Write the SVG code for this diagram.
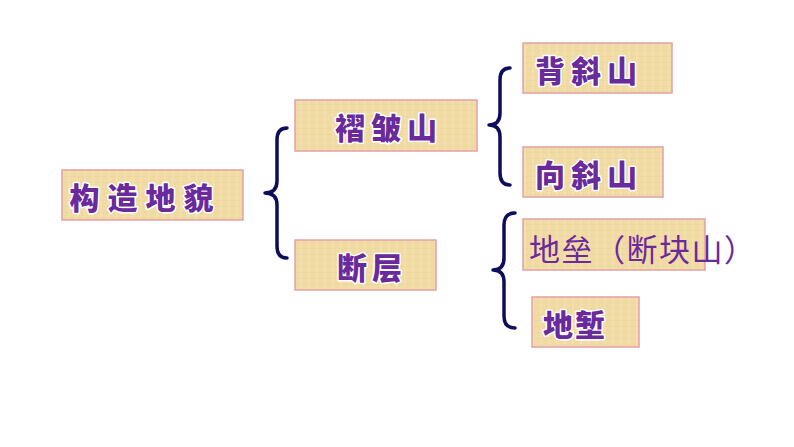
<svg xmlns="http://www.w3.org/2000/svg" width="794" height="447" viewBox="0 0 794 447">
<defs>
<pattern id="pap" width="8" height="6" patternUnits="userSpaceOnUse">
<rect width="8" height="6" fill="#f1dba4"/>
<path d="M0 2.5H8" stroke="#e9cf95" stroke-width="0.8" opacity="0.5"/>
<path d="M5 0V6" stroke="#f8e9c2" stroke-width="1" opacity="0.6"/>
</pattern>
<style>
.box{fill:url(#pap);stroke:#e3a0a6;stroke-width:1.5}
.t{font-family:"Noto Sans CJK SC","Noto Sans CJK JP",sans-serif;font-weight:900;fill:#6a2a9c;stroke:#ffffff;stroke-width:3;paint-order:stroke;stroke-linejoin:round;text-anchor:middle;dominant-baseline:central;font-size:30px}
.r{font-family:"Noto Sans CJK SC","Noto Sans CJK JP",sans-serif;font-weight:400;fill:#6a2a9c;font-size:31px;dominant-baseline:central;letter-spacing:1.5px}
.br{fill:none;stroke:#0d0d5c;stroke-width:3.5;stroke-linecap:round;stroke-linejoin:round}
</style>
</defs>
<rect width="794" height="447" fill="#ffffff"/>
<g id="connectors">
<path class="br" d="M287,128 Q277,128 277,140 L277,181 Q277,193 265,193 Q277,193 277,205 L277,246 Q277,258 287,258"/>
<path class="br" d="M510,68 Q500,68 500,80 L500,113 Q500,125 489,125 Q500,125 500,137 L500,173 Q500,185 510,185"/>
<path class="br" d="M515,213 Q504,213 504,225 L504,258 Q504,270 493,270 Q504,270 504,282 L504,316 Q504,328 515,328"/>
</g>
<g id="n-root">
<rect class="box" x="62" y="170" width="181" height="50"/>
<text class="t" x="145.5" y="196" letter-spacing="8">构造地貌</text>
</g>
<g id="n-fold">
<rect class="box" x="295" y="100" width="182" height="51"/>
<text class="t" x="389" y="126" letter-spacing="6">褶皱山</text>
</g>
<g id="n-fault">
<rect class="box" x="295" y="240" width="141" height="50"/>
<text class="t" x="372" y="266" letter-spacing="5">断层</text>
</g>
<g id="n-anticline">
<rect class="box" x="523" y="43" width="149" height="50"/>
<text class="t" x="589" y="69" letter-spacing="6">背斜山</text>
</g>
<g id="n-syncline">
<rect class="box" x="523" y="147" width="140" height="50"/>
<text class="t" x="589" y="173" letter-spacing="6">向斜山</text>
</g>
<g id="n-horst">
<rect class="box" x="523" y="219" width="182" height="51"/>
<text class="r" x="529" y="247">地垒（断块山）</text>
</g>
<g id="n-graben">
<rect class="box" x="532" y="297" width="107" height="50"/>
<text class="t" x="575" y="323" letter-spacing="2">地堑</text>
</g>
</svg>
